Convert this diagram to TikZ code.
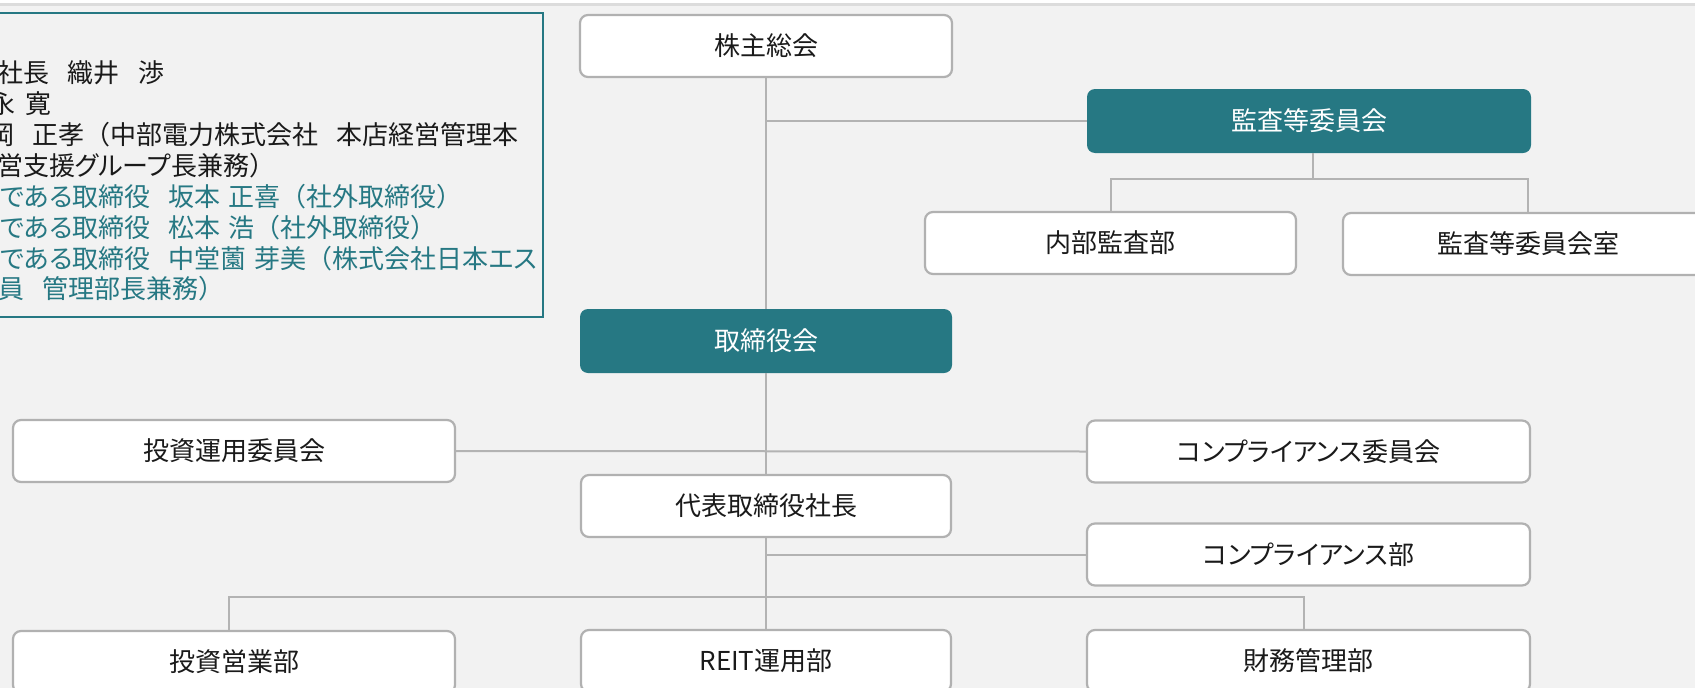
\documentclass[tikz,border=0pt]{standalone}
\usepackage{fontspec}
\setmainfont{Noto Sans CJK JP}
\newfontfamily\palfont[RawFeature=+palt]{Noto Sans CJK JP}
\newcommand\kn[1]{{\palfont #1}}
\usetikzlibrary{calc}
\definecolor{mteal}{HTML}{267883}
\definecolor{bgc}{HTML}{F2F2F2}
\definecolor{bordc}{HTML}{B1B1B1}
\definecolor{linec}{HTML}{B3B3B3}
\definecolor{txt}{HTML}{1A1A1A}
\definecolor{topband}{HTML}{DCDCDC}
\tikzset{
  basebox/.style={rounded corners=8pt, minimum height=62pt, text height=22.9pt, text depth=3.1pt, inner sep=0pt, font=\fontsize{26pt}{31pt}\selectfont, align=center},
  wbox/.style={basebox, draw=bordc, line width=2.2pt, fill=white, text=txt},
  tbox/.style={basebox, fill=mteal, text=white, minimum height=64pt},
  conn/.style={draw=linec, line width=2pt},
  legline/.style={anchor=base west, inner sep=0pt, font=\fontsize{26pt}{31pt}\selectfont},
  legblack/.style={legline, text=txt},
  legteal/.style={legline, text=mteal},
}
\begin{document}
\begin{tikzpicture}[x=1pt,y=-1pt]
\useasboundingbox (0,0) rectangle (1695,688);
\clip (0,0) rectangle (1695,688);
\fill[bgc] (0,0) rectangle (1695,688);
\fill[white] (0,0) rectangle (1695,3);
\fill[topband] (0,3) rectangle (1695,6);

% legend box
\draw[mteal, line width=2pt, fill=bgc] (-10,13) rectangle (543,317);
\node[legblack] (leg1) at (-3,82) {社長\kern18pt 織井\kern19pt 渉};
\node[legblack] (leg2) at (-11,113) {永\kern10pt 寛};
\node[legblack] (leg3) at (-12,144) {岡\kern18pt 正孝（中部電力株式会社\kern18pt 本店経営管理本};
\node[legblack] (leg4) at (-3,175) {営支援\kn{グループ}長兼務）};
\node[legteal] (leg5) at (0,206) {\kn{である}取締役\kern18pt 坂本\kern8pt 正喜（社外取締役）};
\node[legteal] (leg6) at (0,237) {\kn{である}取締役\kern18pt 松本\kern8pt 浩（社外取締役）};
\node[legteal] (leg7) at (0,268) {\kn{である}取締役\kern18pt 中堂薗\kern8pt 芽美（株式会社日本\kn{エス}};
\node[legteal] (leg8) at (-2,298) {員\kern18pt 管理部長兼務）};

% boxes
\node[wbox, minimum width=372pt] (kabu) at (766,46) {株主総会};
\node[tbox, minimum width=444pt] (kansa) at (1309,121) {監査等委員会};
\node[wbox, minimum width=371pt] (naibu) at (1110.5,243) {内部監査部};
\node[wbox, minimum width=370pt] (kshitsu) at (1528,244) {監査等委員会室};
\node[tbox, minimum width=372pt] (tori) at (766,341) {取締役会};
\node[wbox, minimum width=442pt] (toushi) at (234,451) {投資運用委員会};
\node[wbox, minimum width=443pt] (compi) at (1308.5,451.5) {\kn{コンプライアンス}委員会};
\node[wbox, minimum width=370pt] (shacho) at (766,506) {代表取締役社長};
\node[wbox, minimum width=443pt] (compb) at (1308.5,554.5) {\kn{コンプライアンス}部};
\node[wbox, minimum width=442pt] (eigyo) at (234,662) {投資営業部};
\node[wbox, minimum width=370pt] (reit) at (766,661) {REIT運用部};
\node[wbox, minimum width=443pt] (zaimu) at (1308.5,661) {財務管理部};

% connectors
\draw[conn] (kabu.south) -- (tori.north);
\draw[conn] (kabu.south |- kansa.west) -- (kansa.west);
\draw[conn] ([xshift=4pt]kansa.south) -- ++(0,26) coordinate (kbus);
\draw[conn] (naibu.north) |- (kbus) -| (kshitsu.north);
\draw[conn] (tori.south) -- (shacho.north);
\draw[conn] (toushi.east) -- (compi.west);
\draw[conn] (shacho.south) -- (reit.north);
\draw[conn] (shacho.south |- compb.west) -- (compb.west);
\draw[conn] ([xshift=-5pt]eigyo.north) -- ++(0,-33) coordinate (bbus) -| ([xshift=-4.5pt]zaimu.north);
\end{tikzpicture}
\end{document}
